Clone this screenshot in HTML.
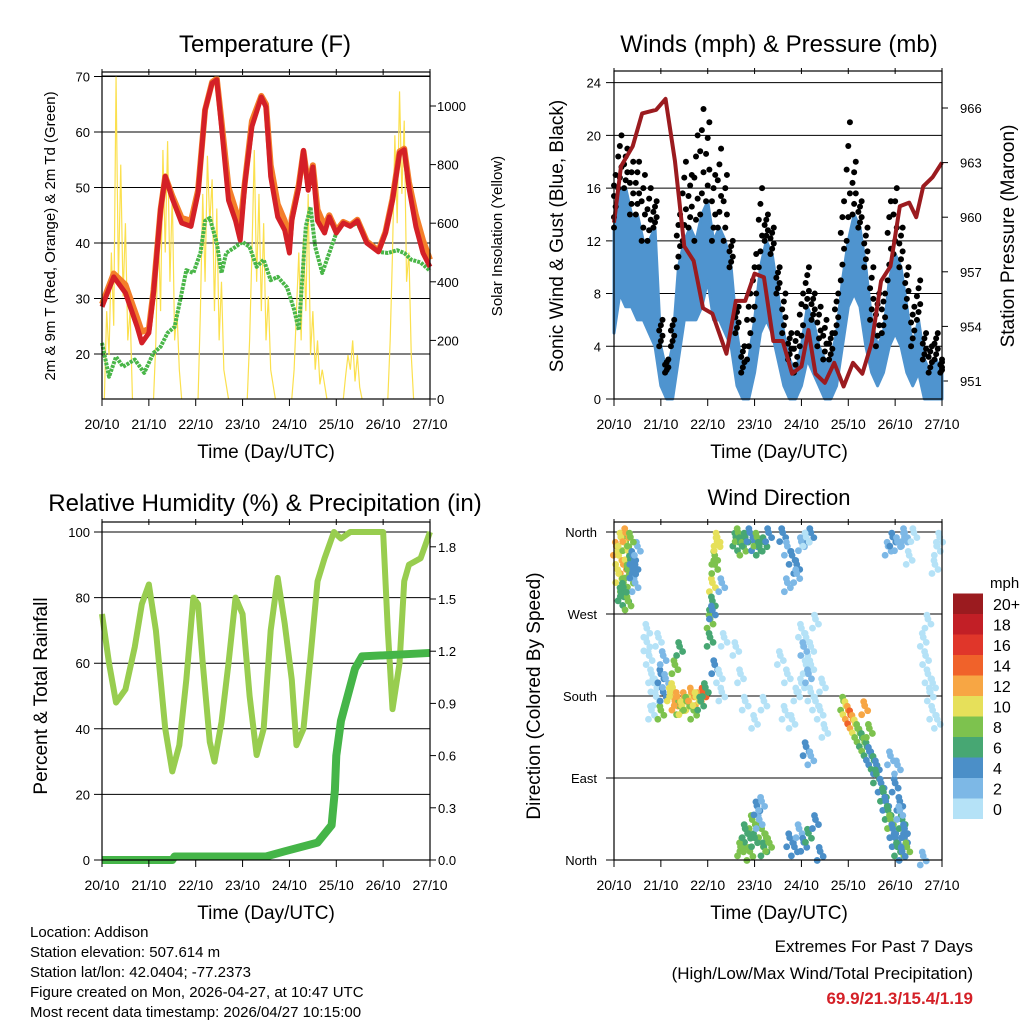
<!DOCTYPE html>
<html><head><meta charset="utf-8"><style>
body{margin:0;background:#fff;overflow:hidden;}
svg{display:block;font-family:"Liberation Sans",sans-serif;}
</style></head><body>
<svg id="s" width="1024" height="1024" viewBox="0 0 1024 1024" xmlns="http://www.w3.org/2000/svg">
<rect width="1024" height="1024" fill="#fff"/>
<g id="g"></g>
</svg>
<script>
// ---------- DATA ----------
const dayLabels=["20/10","21/10","22/10","23/10","24/10","25/10","26/10","27/10"];
const tempTicks=[20,30,40,50,60,70];
const solarTicks=[0,200,400,600,800,1000];
const windTicks=[0,4,8,12,16,20,24];
const presTicks=[951,954,957,960,963,966];
const rhTicks=[0,20,40,60,80,100];
const prTicks=["0.0","0.3","0.6","0.9","1.2","1.5","1.8"];
const dirTicks=["North","East","South","West","North"];
const speedLabels=["0","2","4","6","8","10","12","14","16","18","20+"];
const speedColors=["#b5e2f7","#7db8e6","#4b8fc8","#47a773","#7dc24e","#e6e05a","#f7a644","#f0622a","#e0362a","#c21f26","#9b1b1f"];

const tT=[0,0.25,0.5,0.75,0.85,1.0,1.1,1.25,1.35,1.5,1.7,1.9,2.05,2.2,2.35,2.45,2.55,2.7,2.85,2.95,3.05,3.2,3.4,3.5,3.6,3.75,3.9,4.0,4.05,4.2,4.3,4.4,4.5,4.6,4.75,4.85,5.0,5.15,5.3,5.45,5.65,5.9,6.05,6.2,6.35,6.45,6.55,6.7,6.85,7.0];
const temp2m=[28.5,33.9,31,24.9,22,23.8,31,46,52,48,43.6,43,49,64,68.8,69.4,61,47.7,44,40.5,50.8,61,66.3,64.5,52,44.7,42.3,38.2,44,50,56.7,49.5,53.7,44,41.8,44.7,41.8,43.6,43,44,40,38.4,41.8,47.7,56.2,56.8,50,42.9,38.2,35.7];
const temp9m=[29,34.5,32.5,26.5,24,24.5,31.5,46,52,48.5,44.5,44,49.5,64,69,69.6,62,50,46,43,51,62,66.5,65,54,47,44,40,44.5,50.5,56.5,50.5,54,46,43,45,42.2,43.8,43.2,44.2,40.3,38.6,42,48,56.5,57,51,45,40.5,37];
const tD=[0,0.15,0.3,0.45,0.7,0.9,1.1,1.25,1.4,1.55,1.7,1.8,1.95,2.1,2.2,2.3,2.45,2.55,2.65,2.85,3.0,3.15,3.3,3.45,3.6,3.75,3.95,4.1,4.2,4.35,4.45,4.55,4.7,4.85,5.0,5.15,5.3,5.45,5.65,5.9,6.1,6.3,6.45,6.6,6.8,7.0];
const dewpoint=[22,15.9,19.5,17.7,19,16.6,20.2,21.3,23.8,24.9,31,35.1,34.6,38.2,44,44.5,40,34.6,38.2,39.3,40.2,39.3,35.7,37,33.3,33.9,32,28,24.3,43,46.5,39.3,34.6,38.2,41.8,43.6,43,43.6,40,38.4,38.2,38.7,38.2,37,36.5,35];
const solarStart=[0.05,1.1,2.05,3.1,4.05,5.15,6.1];
const solarVals=[[0,300,150,500,250,1100,400,800,350,600,200,300,0],[0,200,600,300,850,500,880,400,700,200,300,100,0],[0,300,700,400,830,600,750,300,650,200,400,100,50,0],[0,200,500,850,400,700,300,600,200,350,100,50,0],[0,100,300,500,200,550,300,700,150,300,100,200,50,100,50,0],[0,80,150,100,200,60,150,40,0],[0,200,500,900,600,1050,700,950,400,500,150,0]];

const tP=[0,0.15,0.4,0.6,0.9,1.1,1.3,1.5,1.7,1.9,2.1,2.4,2.6,2.8,3.0,3.2,3.4,3.6,3.8,4.0,4.15,4.3,4.5,4.7,4.9,5.1,5.3,5.5,5.7,5.9,6.1,6.3,6.45,6.6,6.8,7.0];
const pressure=[959.7,962.8,963.9,965.7,965.9,966.5,963.1,958.4,957.6,955,954.7,952.5,955.4,955.4,956.9,956.7,953.2,953.2,951.4,951.8,953.8,951.4,950.9,952,950.7,952,951.4,953.1,956.5,957.3,960.6,960.8,960,961.7,962.2,963];
const windHi=[13,16,16,14,14,12,12,13,4,2,4,10,12,13,12,14,15,12,13,12,10,5,2,3,6,10,12,11,8,5,3,2,4,7,6,4,3,3,5,9,12,14,13,10,6,4,5,9,11,10,7,4,6,3,2,3,2];
const windLo=[5,8,7,7,6,6,5,4,1,0,0,3,6,6,6,7,9,6,6,5,4,1,0,0,2,5,6,5,3,1,0,0,1,3,2,1,0,0,1,4,7,8,7,4,2,1,2,4,5,4,2,1,2,0,0,0,0];
const gust=[17,20,19,18,18,17,16,15,6,3,6,14,18,17,20,22,21,17,19,17,12,7,4,8,11,16,14,13,10,8,5,5,8,10,8,7,6,5,8,15,21,18,15,13,10,8,8,15,16,13,10,7,9,5,4,5,3];

const tRH=[0,0.15,0.3,0.5,0.7,0.85,1.0,1.15,1.25,1.35,1.5,1.65,1.8,1.95,2.05,2.15,2.3,2.4,2.55,2.7,2.85,3.0,3.15,3.3,3.45,3.6,3.75,3.9,4.05,4.15,4.3,4.45,4.6,4.75,4.95,5.1,5.3,5.6,5.8,6.0,6.1,6.2,6.35,6.45,6.55,6.8,7.0];
const rh=[75,60,48,52,65,78,84,70,55,40,27,35,55,80,78,60,36,30,42,60,80,75,50,32,40,70,86,72,55,35,40,62,85,92,100,98,100,100,100,100,70,46,60,85,90,92,100];
const tPr=[0,1.5,1.55,3.5,3.9,4.6,4.9,4.97,5.0,5.1,5.25,5.4,5.55,7.0];
const precip=[0,0,0.02,0.02,0.05,0.1,0.2,0.4,0.6,0.8,0.95,1.1,1.17,1.19];

// wind direction points: time (days), direction (deg), speed (mph)
const dirTime=[0.05,0.1,0.15,0.2,0.25,0.3,0.35,0.1,0.2,0.3,0.15,0.25,0.35,0.4,0.45,0.5,0.45,0.3,0.2,0.15,0.25,0.35,0.4,
0.7,0.75,0.8,0.85,0.9,0.7,0.8,0.95,1.0,1.05,1.0,1.05,1.1,
1.2,1.3,1.4,1.5,1.6,1.7,1.8,1.9,1.25,1.35,1.45,1.55,1.65,1.75,1.85,1.95,1.3,1.4,
2.05,2.1,2.15,2.2,2.1,2.15,2.2,2.05,2.1,2.15,2.25,2.3,2.35,2.3,
2.6,2.65,2.7,2.75,2.8,2.9,3.0,2.75,2.85,2.95,2.6,2.7,2.8,3.05,3.1,3.2,3.3,3.15,3.25,
2.7,2.9,3.0,2.8,3.1,3.2,3.3,3.05,3.15,3.0,3.2,
3.6,3.7,3.8,3.9,4.0,4.1,4.2,3.75,3.85,3.95,4.05,4.15,3.7,3.9,4.1,4.3,4.4,
3.55,3.7,3.9,4.1,4.3,4.2,3.65,3.8,4.0,4.2,
4.0,4.05,4.1,4.15,4.2,4.3,4.4,4.5,4.1,4.2,4.45,
4.9,4.95,5.0,5.05,5.1,5.15,5.2,5.25,5.3,5.35,5.4,5.45,5.5,5.55,5.6,5.35,5.45,
5.6,5.7,5.75,5.8,5.85,5.9,5.95,6.0,6.05,6.1,6.15,6.2,6.25,6.0,6.1,6.2,5.9,6.05,6.15,6.2,
5.85,5.95,6.05,6.2,6.3,6.4,
6.6,6.65,6.7,6.75,6.8,6.85,6.9,6.95,6.7,6.8,6.6,6.9];
const dirDeg=[340,330,350,320,345,335,325,310,300,315,290,285,305,330,320,340,300,280,295,350,355,350,315,
250,220,200,190,175,235,160,240,200,220,160,180,195,
180,170,165,175,170,160,175,180,185,175,165,170,180,175,170,185,210,230,
260,300,330,350,280,320,345,240,270,210,200,180,240,300,
350,355,345,340,350,355,345,15,25,40,230,200,170,350,340,345,355,30,20,
10,5,20,30,40,10,15,55,60,150,170,
355,340,330,320,345,350,355,20,10,30,15,25,300,310,350,40,5,
220,200,180,240,260,210,160,150,190,230,
250,230,210,200,180,170,160,140,120,110,190,
170,165,160,155,150,145,140,135,130,125,120,115,110,105,100,165,140,
90,80,70,60,50,40,30,20,10,60,40,20,10,80,50,30,110,100,5,355,
340,350,345,350,330,355,
240,220,200,180,160,320,340,350,260,190,0,150];
const dirSpd=[12,10,9,13,8,11,7,10,9,8,7,6,9,5,4,3,3,8,7,10,12,9,4,
1,1,0,0,1,0,1,1,4,3,8,4,3,
10,12,9,13,11,9,12,14,10,12,11,8,13,10,7,6,8,6,
9,10,8,11,7,9,10,6,5,4,1,0,1,3,
7,8,6,9,7,5,4,8,7,9,1,0,1,8,6,7,5,8,9,
8,9,7,6,3,7,8,4,3,1,1,
4,3,4,5,3,4,4,5,4,3,4,6,3,2,1,5,4,
0,1,0,0,1,0,1,0,0,1,
1,2,0,3,0,1,0,1,4,3,0,
8,10,12,14,13,11,9,8,7,8,6,5,4,6,5,12,8,
6,5,7,4,6,8,5,4,7,5,6,4,8,4,3,5,2,3,4,3,
3,4,2,3,1,1,
1,0,1,0,0,1,0,1,0,1,2,0];

// ---------- DRAW ----------
const NS="http://www.w3.org/2000/svg";
const G=document.getElementById('g');
function el(tag,attrs,parent,txt){const e=document.createElementNS(NS,tag);for(const k in attrs)e.setAttribute(k,attrs[k]);if(txt!==undefined)e.textContent=txt;(parent||G).appendChild(e);return e;}
function grp(name){const g=el('g',{});


return g;}
function text(p,x,y,s,size,anchor,rot,fill,weight){const a={x:x,y:y,'font-size':size,'text-anchor':anchor||'middle',fill:fill||'#000'};if(rot)a.transform='rotate(-90 '+x+' '+y+')';if(weight)a['font-weight']=weight;return el('text',a,p,s);}

function frame(g,x0,x1,y0,y1){
  el('rect',{x:x0,y:y0,width:x1-x0,height:y1-y0,fill:'none',stroke:'#000','stroke-width':1.2},g);
}
function xAxis(g,X,y0,y1){
  for(let i=0;i<dayLabels.length;i++){const x=X(i);
    el('line',{x1:x,x2:x,y1:y1,y2:y1+7,stroke:'#000'},g);
    el('line',{x1:x,x2:x,y1:y0-3,y2:y0+3,stroke:'#000'},g);
    const t=text(g,x,y1+30,dayLabels[i],14);
    
    
  }
}

// Panel 1: Temperature
(function(){
 const g=grp('temperature-panel');
 const x0=102,x1=430,yTop=72,yBot=399;
 const X=t=>x0+t*(x1-x0)/7, Y=v=>354-(v-20)*5.55, YS=v=>399-v*0.293;
 tempTicks.forEach(v=>{el('line',{x1:x0-8,x2:x1,y1:Y(v),y2:Y(v),stroke:'#000','stroke-width':1},g);
   const t=text(g,x0-12,Y(v)+5,String(v),13,'end');
   
   });
 solarTicks.forEach(v=>{el('line',{x1:x1,x2:x1+6,y1:YS(v),y2:YS(v),stroke:'#000'},g);
   text(g,x1+7,YS(v)+5,String(v),13,'start');});
 const sg=grp('solar-insolation-line');g.appendChild(sg);
 solarStart.forEach((s,d)=>{const pts=solarVals[d].map((v,i)=>X(s+i*0.05)+','+YS(v)).join(' ');
   el('polyline',{points:pts,fill:'none',stroke:'#fbe04e','stroke-width':1.2},sg);});
 const dp=grp('dewpoint-line');g.appendChild(dp);
 el('polyline',{points:tD.map((t,i)=>X(t)+','+Y(dewpoint[i])).join(' '),fill:'none',stroke:'#49b648','stroke-width':4,'stroke-dasharray':'3 1','stroke-linejoin':'round'},dp);
 const o=grp('temp-9m-line');g.appendChild(o);
 el('polyline',{points:tT.map((t,i)=>X(t)+','+Y(temp9m[i])).join(' '),fill:'none',stroke:'#f47f2a','stroke-width':6,'stroke-linejoin':'round'},o);
 const r=grp('temp-2m-line');g.appendChild(r);
 el('polyline',{points:tT.map((t,i)=>X(t)+','+Y(temp2m[i])).join(' '),fill:'none',stroke:'#d42027','stroke-width':5,'stroke-linejoin':'round'},r);
 frame(g,x0,x1,yTop,yBot);
 el('line',{x1:x0,x2:x1,y1:76,y2:76,stroke:'#000'},g);
 xAxis(g,i=>X(i),yTop,yBot);
 text(g,265,52,'Temperature (F)',24);
 text(g,266,458,'Time (Day/UTC)',19);
 text(g,55,236,'2m & 9m T (Red, Orange) & 2m Td (Green)',15,'middle',true);
 text(g,502,236,'Solar Insolation (Yellow)',15,'middle',true);
})();

// Panel 2: Winds
(function(){
 const g=grp('winds-panel');
 const x0=614,x1=942,yTop=71,yBot=399;
 const X=t=>x0+t*(x1-x0)/7, Y=v=>399-v*13.18, YP=p=>381-(p-951)*18.2;
 windTicks.forEach(v=>{el('line',{x1:x0-8,x2:x1,y1:Y(v),y2:Y(v),stroke:'#000'},g);
   text(g,x0-13,Y(v)+5,String(v),13,'end');});
 presTicks.forEach(v=>{el('line',{x1:x1,x2:x1+6,y1:YP(v),y2:YP(v),stroke:'#000'},g);
   text(g,x1+18,YP(v)+5,String(v),13,'start');});
 const tw=windHi.map((_,i)=>i/8);
 const bg=grp('sonic-wind-band');g.appendChild(bg);
 const pts=tw.map((t,i)=>X(t)+','+Y(windHi[i])).concat(tw.slice().reverse().map((t,j)=>{const i=tw.length-1-j;return X(t)+','+Y(windLo[i]);}));
 el('polygon',{points:pts.join(' '),fill:'#4f94cf',stroke:'#4f94cf','stroke-width':3,'stroke-linejoin':'round'},bg);
 const gg=grp('gust-points');g.appendChild(gg);
 for(let i=0;i<gust.length;i++){
   for(let k=0;k<6;k++){const f=k/5;const v=windHi[i]+(gust[i]-windHi[i])*f;
     const tt=tw[i]+(k%3-1)*0.035;
     el('circle',{cx:X(Math.max(0,Math.min(7,tt))),cy:Y(v),r:3,fill:'#000'},gg);}
 }
 const pg=grp('pressure-line');g.appendChild(pg);
 el('polyline',{points:tP.map((t,i)=>X(t)+','+YP(pressure[i])).join(' '),fill:'none',stroke:'#9b1b1f','stroke-width':4,'stroke-linejoin':'round'},pg);
 frame(g,x0,x1,yTop,yBot);
 xAxis(g,i=>X(i),yTop,yBot);
 text(g,779,52,'Winds (mph) & Pressure (mb)',24);
 text(g,779,458,'Time (Day/UTC)',19);
 text(g,563,236,'Sonic Wind & Gust (Blue, Black)',19,'middle',true);
 text(g,1014,236,'Station Pressure (Maroon)',19,'middle',true);
})();

// Panel 3: RH
(function(){
 const g=grp('humidity-panel');
 const x0=102,x1=430,yTop=522,yBot=860;
 const X=t=>x0+t*(x1-x0)/7, Y=v=>860-v*3.28, YR=v=>860-v*174;
 rhTicks.forEach(v=>{el('line',{x1:x0-8,x2:x1,y1:Y(v),y2:Y(v),stroke:'#000'},g);
   text(g,x0-12,Y(v)+5,String(v),13,'end');});
 prTicks.forEach(v=>{el('line',{x1:x1,x2:x1+6,y1:YR(+v),y2:YR(+v),stroke:'#000'},g);
   text(g,x1+8,YR(+v)+5,v,13,'start');});
 const rg=grp('rh-line');g.appendChild(rg);
 el('polyline',{points:tRH.map((t,i)=>X(t)+','+Y(rh[i])).join(' '),fill:'none',stroke:'#98cd4f','stroke-width':6,'stroke-linejoin':'round'},rg);
 const pg=grp('precip-line');g.appendChild(pg);
 el('polyline',{points:tPr.map((t,i)=>X(t)+','+YR(precip[i])).join(' '),fill:'none',stroke:'#45b548','stroke-width':8,'stroke-linejoin':'round'},pg);
 frame(g,x0,x1,yTop,yBot);
 xAxis(g,i=>X(i),yTop,yBot);
 text(g,265,511,'Relative Humidity (%) & Precipitation (in)',24);
 text(g,266,919,'Time (Day/UTC)',19);
 text(g,47,696,'Percent & Total Rainfall',19,'middle',true);
})();

// Panel 4: Wind direction
(function(){
 const g=grp('wind-direction-panel');
 const x0=614,x1=942,yTop=522,yBot=860;
 const X=t=>x0+t*(x1-x0)/7, Y=d=>860-d*0.911;
 dirTicks.forEach((s,i)=>{const y=Y(i*90);el('line',{x1:x0-8,x2:x1,y1:y,y2:y,stroke:'#000'},g);
   text(g,x0-17,y+5,s,13,'end');});
 const sg=grp('wind-direction-points');g.appendChild(sg);
 const ox=[-3,0,3,-1], oy=[5,-4,1,-8];
 for(let i=0;i<dirTime.length;i++){
   const c=speedColors[Math.min(10,Math.floor(dirSpd[i]/2))];
   for(let k=0;k<4;k++){
     el('circle',{cx:X(dirTime[i])+ox[k],cy:Y(dirDeg[i])+oy[k],r:3.4,fill:c},sg);
   }
 }
 frame(g,x0,x1,yTop,yBot);
 xAxis(g,i=>X(i),yTop,yBot);
 text(g,779,505,'Wind Direction',22);
 text(g,779,919,'Time (Day/UTC)',19);
 text(g,540,696,'Direction (Colored By Speed)',19,'middle',true);
 const lg=grp('speed-legend');g.appendChild(lg);
 const bh=20.5;
 for(let i=0;i<speedColors.length;i++){const y=819-(i+1)*bh;
   const r=el('rect',{x:953,y:y,width:30,height:bh,fill:speedColors[i]},lg);
   
   
   text(lg,993,y+bh/2+6,speedLabels[i],16,'start');}
 text(lg,990,588,'mph',15,'start');
})();

// Footer
(function(){
 const g=grp('station-info');
 ["Location: Addison","Station elevation: 507.614 m","Station lat/lon: 42.0404; -77.2373","Figure created on Mon, 2026-04-27, at 10:47 UTC","Most recent data timestamp: 2026/04/27 10:15:00"].forEach((s,i)=>text(g,30,937+i*20,s,15,'start'));
 const e=grp('extremes-summary');
 text(e,973,952,'Extremes For Past 7 Days',17,'end');
 text(e,973,979,'(High/Low/Max Wind/Total Precipitation)',17,'end');
 text(e,973,1004,'69.9/21.3/15.4/1.19',17,'end',false,'#d42027','bold');
})();
</script>
</body></html>
